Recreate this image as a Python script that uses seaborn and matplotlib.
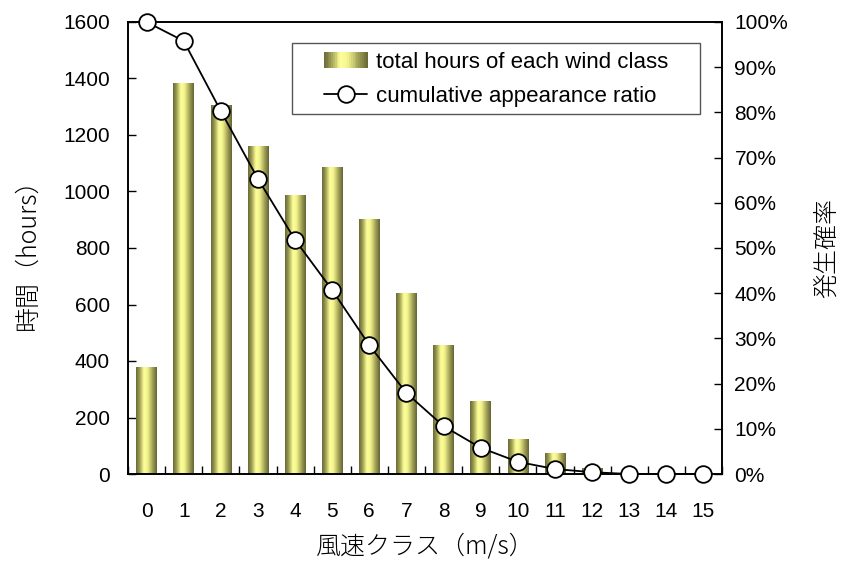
import numpy as np
import pandas as pd
import matplotlib
matplotlib.use("Agg")
import matplotlib.pyplot as plt
from matplotlib.colors import LinearSegmentedColormap
from matplotlib.patches import Rectangle
from matplotlib.lines import Line2D
from matplotlib.legend_handler import HandlerBase
import seaborn as sns

# ---- data ----
wind_class = [str(i) for i in range(16)]
hours = [378, 1384, 1306, 1161, 988, 1087, 903, 641, 457, 258, 124, 74, 20, 0, 0, 0]
ratio = [100.0, 95.8, 80.3, 65.3, 51.8, 40.7, 28.5, 17.9, 10.6, 5.8, 2.7, 1.1, 0.4, 0.0, 0.0, 0.0]
bar_label = "total hours of each wind class"
line_label = "cumulative appearance ratio"
y_left_ticks = [0, 200, 400, 600, 800, 1000, 1200, 1400, 1600]
y_right_ticks = [0, 10, 20, 30, 40, 50, 60, 70, 80, 90, 100]

sns.set_theme(style="ticks")
plt.rcParams['font.family'] = ['Liberation Sans', 'Noto Sans CJK JP']
plt.rcParams['axes.linewidth'] = 1.2
for k in ['text.color', 'axes.labelcolor', 'xtick.color', 'ytick.color', 'axes.edgecolor']:
    plt.rcParams[k] = 'black'

grad_cmap = LinearSegmentedColormap.from_list(
    "olive", [(0.0, "#6a6a38"), (0.15, "#96964f"), (0.38, "#ffff99"),
              (0.55, "#f4f48e"), (0.8, "#a0a056"), (1.0, "#656535")])

TICK_FS = 15
LEG_FS = 16
JP_FS = 18
W, H = 850, 562
AX_L, AX_R, AX_T, AX_B = 128, 722, 22, 474

df = pd.DataFrame({"cls": wind_class, "hours": hours})
fig = plt.figure(figsize=(W / 100, H / 100), dpi=100)
ax = fig.add_axes([AX_L / W, 1 - AX_B / H, (AX_R - AX_L) / W, (AX_B - AX_T) / H])

sns.barplot(data=df, x="cls", y="hours", order=wind_class, ax=ax,
            width=0.55, color="#d8d87a", edgecolor="none", linewidth=0)

grad = np.linspace(0, 1, 64).reshape(1, -1)
for p in ax.patches:
    x0, y0 = p.get_x(), p.get_y()
    w, h = p.get_width(), p.get_height()
    if h <= 0:
        continue
    im = ax.imshow(grad, cmap=grad_cmap, aspect='auto',
                   extent=[x0, x0 + w, y0, y0 + h], zorder=2, interpolation='bilinear')
    im.set_clip_path(p)

ax.set_xlim(-0.5, 15.5)
ax.set_ylim(0, 1600)
ax.set_yticks(y_left_ticks)
ax.set_xticks(range(16))
ax.set_xticklabels(wind_class)
ax.set_xticks(np.arange(-0.5, 16, 1), minor=True)
ax.tick_params(axis='x', which='major', length=0, pad=20, labelsize=TICK_FS)
ax.tick_params(axis='x', which='minor', length=6, direction='in', width=1)
ax.tick_params(axis='y', which='major', length=6, direction='in', width=1, labelsize=TICK_FS, pad=13)
ax.set_xlabel("風速クラス（m/s）", fontsize=JP_FS, labelpad=9,
              family=['Noto Sans CJK JP'], fontweight='light')
ax.set_ylabel("時間（hours）", fontsize=JP_FS, labelpad=16,
              family=['Noto Sans CJK JP'], fontweight='light')
for s in ax.spines.values():
    s.set_visible(True)
    s.set_color('black')

ax2 = ax.twinx()
sns.lineplot(x=list(range(16)), y=ratio, ax=ax2, color='black', linewidth=1.3,
             marker='o', markersize=12, markerfacecolor='white',
             markeredgecolor='black', markeredgewidth=1.3, clip_on=False, zorder=5)
ax2.set_ylim(0, 100)
ax2.set_yticks(y_right_ticks)
ax2.set_yticklabels([f"{v}%" for v in y_right_ticks])
ax2.tick_params(axis='y', which='major', length=6, direction='in', width=1, labelsize=TICK_FS, pad=9)
ax2.set_ylabel("発生確率", fontsize=JP_FS, labelpad=18,
               family=['Noto Sans CJK JP'], fontweight='light')
ax2.set_xlim(-0.5, 15.5)


class GradientHandler(HandlerBase):
    def create_artists(self, legend, orig_handle, xdescent, ydescent, width, height, fontsize, trans):
        arts = []
        n = 24
        for i in range(n):
            c = grad_cmap((i + 0.5) / n)
            r = Rectangle((-xdescent + i * width / n, -ydescent), width / n + 0.3,
                          height, facecolor=c, edgecolor='none', transform=trans)
            arts.append(r)
        return arts


def ax_frac(px, py):
    return ((px - AX_L) / (AX_R - AX_L), 1 - (py - AX_T) / (AX_B - AX_T))


# legend frame box (drawn separately to match reference padding)
fx0, fy0 = ax_frac(292, 114)
fx1, fy1 = ax_frac(700, 43)
frame = Rectangle((fx0, fy0), fx1 - fx0, fy1 - fy0, transform=ax2.transAxes,
                  facecolor='white', edgecolor='#555555', linewidth=1.0, zorder=6)
ax2.add_patch(frame)

bar_handle = Rectangle((0, 0), 1, 1)
line_handle = Line2D([], [], color='black', linewidth=1.3, marker='o', markersize=12,
                     markerfacecolor='white', markeredgecolor='black', markeredgewidth=1.3)
leg = ax2.legend([bar_handle, line_handle], [bar_label, line_label],
                 handler_map={Rectangle: GradientHandler()},
                 loc='upper left', bbox_to_anchor=ax_frac(324, 52),
                 fontsize=LEG_FS, frameon=False, borderpad=0.0,
                 handlelength=1.95, handleheight=0.75,
                 handletextpad=0.4, labelspacing=0.6, borderaxespad=0)
leg.set_zorder(7)

fig.savefig("out.png", dpi=100)
